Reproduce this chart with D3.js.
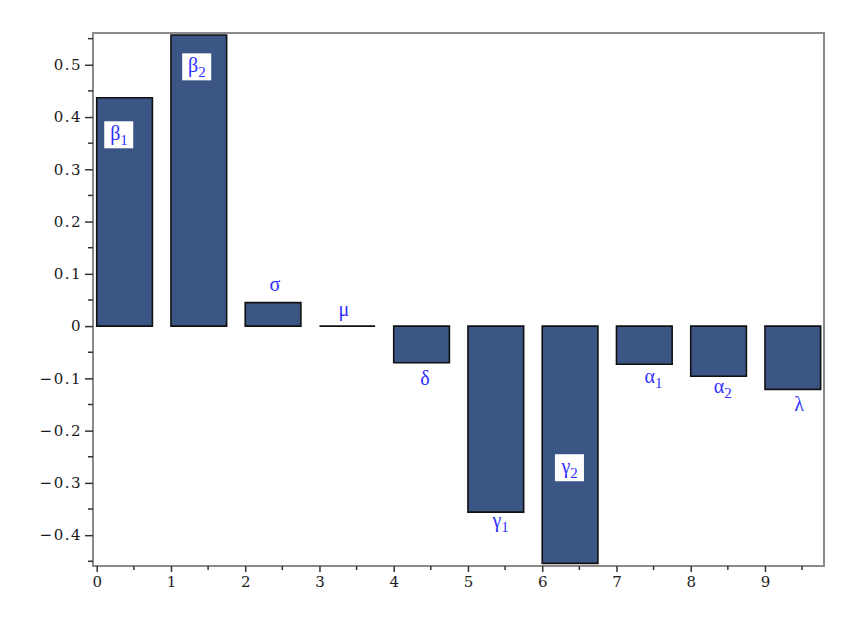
<!DOCTYPE html>
<html>
<head>
<meta charset="utf-8">
<script src="https://cdn.jsdelivr.net/npm/d3@7"></script>
<style>
  body { margin: 0; background: #fff; }
  svg { display: block; }
</style>
</head>
<body>
<div id="chart"></div>
<script>
// bar values, one per parameter (bar i starts at x = i)
var names = ["β", "β", "σ", "μ", "δ", "γ", "γ", "α", "α", "λ"];
var subs = ["1", "2", "", "", "", "1", "2", "1", "2", ""];
var values = [0.437, 0.557, 0.045, 0.0, -0.070, -0.356, -0.454, -0.073, -0.096, -0.121];
// where each label sits, in data units
var labelX = [0.29, 1.34, 2.40, 3.33, 4.42, 5.43, 6.36, 7.49, 8.42, 9.46];
var labelY = [0.367, 0.497, 0.078, 0.031, -0.101, -0.373, -0.270, -0.097, -0.117, -0.151];
var boxed = [true, true, false, false, false, false, true, false, false, false];

var xTicks = [0, 1, 2, 3, 4, 5, 6, 7, 8, 9];
var yTicks = [-0.4, -0.3, -0.2, -0.1, 0, 0.1, 0.2, 0.3, 0.4, 0.5];

var W = 858, H = 622;
var plotL = 93, plotR = 824, plotT = 33, plotB = 566;
var barW = 0.75;

var x = d3.scaleLinear().domain([-0.05, 9.795]).range([plotL, plotR]);
var y = d3.scaleLinear().domain([-0.459, 0.5608]).range([plotB, plotT]);

var svg = d3.select("#chart").append("svg")
    .attr("width", W)
    .attr("height", H);

// bars (a zero bar is drawn as its outline only, i.e. a flat line)
svg.selectAll("path.bar")
    .data(values)
    .enter().append("path")
    .attr("class", "bar")
    .attr("d", function (d, i) {
        var x0 = x(i), x1 = x(i + barW), y0 = y(0), y1 = y(d);
        if (d === 0) return "M" + x0 + "," + y0 + "H" + x1;
        return "M" + x0 + "," + y0 + "V" + y1 + "H" + x1 + "V" + y0 + "Z";
    })
    .style("fill", "#3b5585")
    .style("stroke", "#111")
    .style("stroke-width", 1.6);

// frame (left, bottom, top, right)
svg.append("rect")
    .attr("x", plotL).attr("y", plotT)
    .attr("width", plotR - plotL).attr("height", plotB - plotT)
    .style("fill", "none")
    .style("stroke", "#8a8a8a")
    .style("stroke-width", 2);

// y axis
var yMinor = d3.range(-0.45, 0.56, 0.05).filter(function (v) {
    return Math.abs(Math.round(v * 10) - v * 10) > 0.01;
});
var yAxis = d3.axisLeft(y)
    .tickValues(yTicks)
    .tickSize(8)
    .tickPadding(3)
    .tickFormat(function (d) { return d === 0 ? "0" : d3.format(".1f")(d).replace("-", "\u2212"); });
var gy = svg.append("g").attr("transform", "translate(" + plotL + ",0)").call(yAxis);
gy.select(".domain").remove();
gy.selectAll("line").style("stroke", "#333").style("stroke-width", 1.5);
gy.selectAll("text")
    .style("font-family", "DejaVu Serif")
    .style("font-size", "15px")
    .style("letter-spacing", "1.5px")
    .style("fill", "#1a1a1a");
svg.append("g").selectAll("line")
    .data(yMinor)
    .enter().append("line")
    .attr("x1", plotL - 5).attr("x2", plotL)
    .attr("y1", function (d) { return y(d); })
    .attr("y2", function (d) { return y(d); })
    .style("stroke", "#333").style("stroke-width", 1.5);

// x axis
var xAxis = d3.axisBottom(x)
    .tickValues(xTicks)
    .tickSize(6)
    .tickPadding(4)
    .tickFormat(d3.format("d"));
var gx = svg.append("g").attr("transform", "translate(0," + plotB + ")").call(xAxis);
gx.select(".domain").remove();
gx.selectAll("line").style("stroke", "#333").style("stroke-width", 1.5);
gx.selectAll("text")
    .style("font-family", "DejaVu Serif")
    .style("font-size", "15px")
    .style("fill", "#1a1a1a");
svg.append("g").selectAll("line")
    .data(xTicks.map(function (d) { return d + 0.5; }))
    .enter().append("line")
    .attr("x1", function (d) { return x(d); })
    .attr("x2", function (d) { return x(d); })
    .attr("y1", plotB).attr("y2", plotB + 4)
    .style("stroke", "#333").style("stroke-width", 1.5);

// parameter labels
var lab = svg.append("g").selectAll("g.lab")
    .data(names)
    .enter().append("g")
    .attr("class", "lab")
    .attr("transform", function (d, i) { return "translate(" + x(labelX[i]) + "," + y(labelY[i]) + ")"; });

lab.filter(function (d, i) { return boxed[i]; })
    .append("rect")
    .attr("x", -14).attr("y", -13)
    .attr("width", 29).attr("height", 27)
    .style("fill", "#fff");

var txt = lab.append("text")
    .attr("y", 6)
    .attr("text-anchor", "start")
    .style("font-family", "Liberation Serif")
    .style("font-size", "20px")
    .style("fill", "#2f2fff");
txt.append("tspan")
    .text(function (d) { return d; });
txt.append("tspan")
    .attr("dy", 5)
    .style("font-size", "15px")
    .text(function (d, i) { return subs[i]; });
// centre the main glyph on its anchor
txt.each(function (d, i) {
    var w = this.firstChild.getComputedTextLength();
    d3.select(this).attr("x", -w / 2 - (subs[i] ? 3 : 0));
});
</script>
</body>
</html>
